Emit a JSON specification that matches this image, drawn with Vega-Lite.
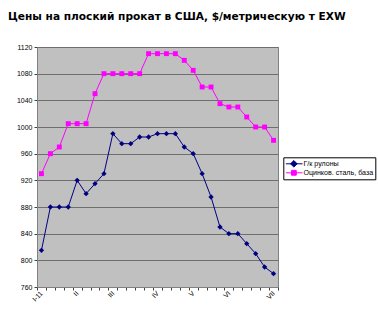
{
  "$schema": "https://vega.github.io/schema/vega-lite/v6.json",
  "width": 241,
  "height": 240,
  "autosize": {"type": "none"},
  "padding": {"left": 37, "top": 47, "right": 100, "bottom": 23},
  "background": "white",
  "title": {
    "text": "Цены на плоский прокат в США, $/метрическую т EXW",
    "anchor": "start",
    "frame": "group",
    "dx": -29,
    "offset": 12,
    "baseline": "alphabetic",
    "font": "DejaVu Sans",
    "fontSize": 10.6,
    "fontWeight": "bold",
    "color": "#000000"
  },
  "config": {
    "view": {"fill": "#C0C0C0", "stroke": "#808080", "strokeWidth": 1},
    "axis": {
      "labelFont": "Liberation Sans",
      "labelFontSize": 7,
      "labelColor": "#000000",
      "domainColor": "#808080",
      "tickColor": "#404040",
      "tickSize": 3,
      "title": null
    }
  },
  "data": {
    "values": [
      {"w": 1, "s": "Г/к рулоны", "v": 815},
      {"w": 2, "s": "Г/к рулоны", "v": 880},
      {"w": 3, "s": "Г/к рулоны", "v": 880},
      {"w": 4, "s": "Г/к рулоны", "v": 880},
      {"w": 5, "s": "Г/к рулоны", "v": 920},
      {"w": 6, "s": "Г/к рулоны", "v": 900},
      {"w": 7, "s": "Г/к рулоны", "v": 915},
      {"w": 8, "s": "Г/к рулоны", "v": 930},
      {"w": 9, "s": "Г/к рулоны", "v": 990},
      {"w": 10, "s": "Г/к рулоны", "v": 975},
      {"w": 11, "s": "Г/к рулоны", "v": 975},
      {"w": 12, "s": "Г/к рулоны", "v": 985},
      {"w": 13, "s": "Г/к рулоны", "v": 985},
      {"w": 14, "s": "Г/к рулоны", "v": 990},
      {"w": 15, "s": "Г/к рулоны", "v": 990},
      {"w": 16, "s": "Г/к рулоны", "v": 990},
      {"w": 17, "s": "Г/к рулоны", "v": 970},
      {"w": 18, "s": "Г/к рулоны", "v": 960},
      {"w": 19, "s": "Г/к рулоны", "v": 930},
      {"w": 20, "s": "Г/к рулоны", "v": 895},
      {"w": 21, "s": "Г/к рулоны", "v": 850},
      {"w": 22, "s": "Г/к рулоны", "v": 840},
      {"w": 23, "s": "Г/к рулоны", "v": 840},
      {"w": 24, "s": "Г/к рулоны", "v": 825},
      {"w": 25, "s": "Г/к рулоны", "v": 810},
      {"w": 26, "s": "Г/к рулоны", "v": 790},
      {"w": 27, "s": "Г/к рулоны", "v": 780},
      {"w": 1, "s": "Оцинков. сталь, база", "v": 930},
      {"w": 2, "s": "Оцинков. сталь, база", "v": 960},
      {"w": 3, "s": "Оцинков. сталь, база", "v": 970},
      {"w": 4, "s": "Оцинков. сталь, база", "v": 1005},
      {"w": 5, "s": "Оцинков. сталь, база", "v": 1005},
      {"w": 6, "s": "Оцинков. сталь, база", "v": 1005},
      {"w": 7, "s": "Оцинков. сталь, база", "v": 1050},
      {"w": 8, "s": "Оцинков. сталь, база", "v": 1080},
      {"w": 9, "s": "Оцинков. сталь, база", "v": 1080},
      {"w": 10, "s": "Оцинков. сталь, база", "v": 1080},
      {"w": 11, "s": "Оцинков. сталь, база", "v": 1080},
      {"w": 12, "s": "Оцинков. сталь, база", "v": 1080},
      {"w": 13, "s": "Оцинков. сталь, база", "v": 1110},
      {"w": 14, "s": "Оцинков. сталь, база", "v": 1110},
      {"w": 15, "s": "Оцинков. сталь, база", "v": 1110},
      {"w": 16, "s": "Оцинков. сталь, база", "v": 1110},
      {"w": 17, "s": "Оцинков. сталь, база", "v": 1100},
      {"w": 18, "s": "Оцинков. сталь, база", "v": 1085},
      {"w": 19, "s": "Оцинков. сталь, база", "v": 1060},
      {"w": 20, "s": "Оцинков. сталь, база", "v": 1060},
      {"w": 21, "s": "Оцинков. сталь, база", "v": 1035},
      {"w": 22, "s": "Оцинков. сталь, база", "v": 1030},
      {"w": 23, "s": "Оцинков. сталь, база", "v": 1030},
      {"w": 24, "s": "Оцинков. сталь, база", "v": 1015},
      {"w": 25, "s": "Оцинков. сталь, база", "v": 1000},
      {"w": 26, "s": "Оцинков. сталь, база", "v": 1000},
      {"w": 27, "s": "Оцинков. сталь, база", "v": 980}
    ]
  },
  "encoding": {
    "x": {
      "field": "w",
      "type": "ordinal",
      "scale": {"paddingInner": 0, "paddingOuter": 0},
      "axis": {
        "tickBand": "extent",
        "labelAngle": -45,
        "labelAlign": "right",
        "labelBaseline": "middle",
        "labelPadding": 2,
        "labelOverlap": false,
        "labelBound": false,
        "domain": true,
        "labelExpr": "datum.value == 1 ? 'I-11' : datum.value == 5 ? 'II' : datum.value == 9 ? 'III' : datum.value == 14 ? 'IV' : datum.value == 18 ? 'V' : datum.value == 22 ? 'VI' : datum.value == 27 ? 'VII' : ''"
      }
    },
    "y": {
      "field": "v",
      "type": "quantitative",
      "scale": {"domain": [760, 1120], "nice": false, "zero": false},
      "axis": {
        "values": [760, 800, 840, 880, 920, 960, 1000, 1040, 1080, 1120],
        "format": "d",
        "grid": true,
        "gridColor": "#6E6E6E",
        "gridWidth": 1,
        "gridOpacity": 1,
        "labelPadding": 2
      }
    },
    "color": {
      "field": "s",
      "type": "nominal",
      "scale": {
        "domain": ["Г/к рулоны", "Оцинков. сталь, база"],
        "range": ["#000080", "#FF00FF"]
      },
      "legend": {
        "title": null,
        "orient": "none",
        "legendX": 246.3,
        "legendY": 110.3,
        "strokeColor": "#000000",
        "fillColor": "#FFFFFF",
        "padding": 2,
        "rowPadding": 0,
        "clipHeight": 9,
        "symbolSize": 36,
        "labelOffset": 11,
        "labelFont": "Liberation Sans",
        "labelFontSize": 7.1,
        "labelColor": "#000000",
        "encode": {
          "symbols": {
            "update": {
              "shape": {"signal": "datum.value == 'Г/к рулоны' ? 'M-1,0H4.57M1.67,-1.1L2.77,0L1.67,1.1L0.57,0Z' : 'M-1,0H4.57M0.87,-0.8H2.47V0.8H0.87Z'"},
              "fill": {"scale": "color", "field": "value"},
              "stroke": {"scale": "color", "field": "value"},
              "strokeWidth": {"value": 1},
              "opacity": {"value": 1},
              "fillOpacity": {"value": 1}
            }
          }
        }
      }
    }
  },
  "layer": [
    {"mark": {"type": "line", "strokeWidth": 1}},
    {
      "transform": [{"filter": "datum.s == 'Г/к рулоны'"}],
      "mark": {"type": "point", "filled": true, "opacity": 1, "size": 28, "shape": "diamond"}
    },
    {
      "transform": [{"filter": "datum.s != 'Г/к рулоны'"}],
      "mark": {"type": "point", "filled": true, "opacity": 1, "size": 24, "shape": "square"}
    }
  ]
}
